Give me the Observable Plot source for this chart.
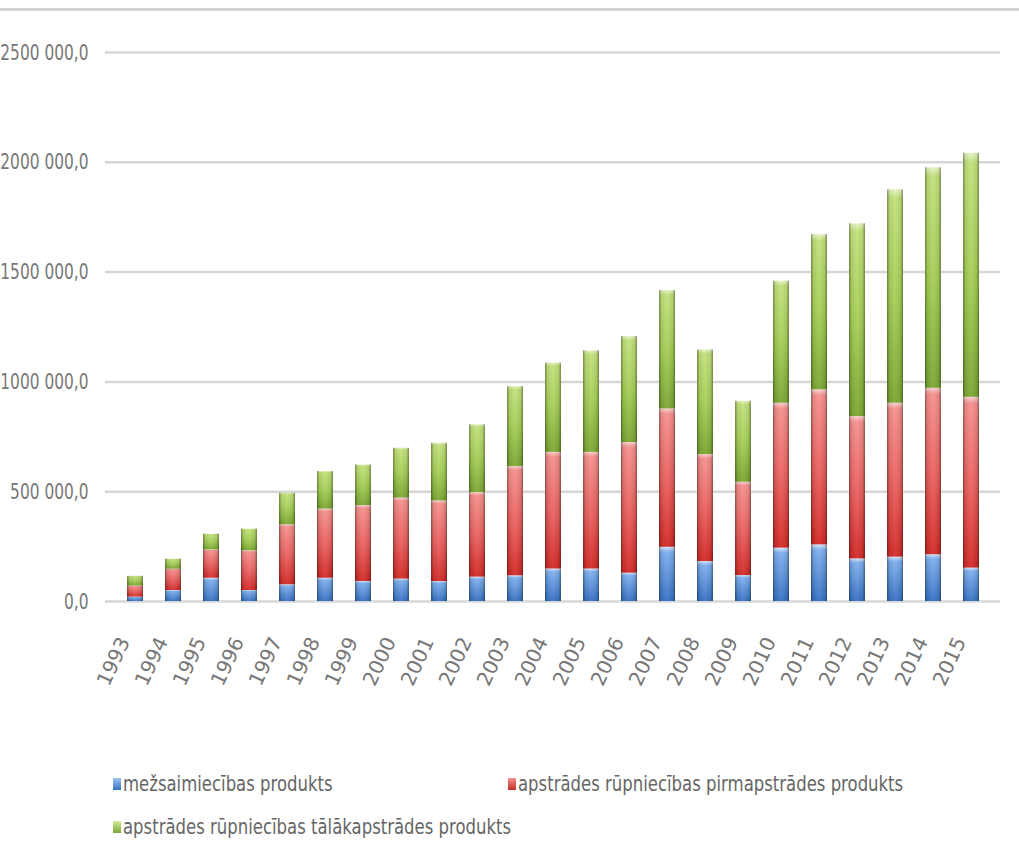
<!DOCTYPE html>
<html>
<head>
<meta charset="utf-8">
<script src="https://cdn.jsdelivr.net/npm/d3@7"></script>
<script src="https://cdn.jsdelivr.net/npm/@observablehq/plot@0.6"></script>
<style>
  html, body { margin: 0; padding: 0; background: #fff; }
  #wrap { position: relative; width: 1019px; height: 867px; overflow: hidden; }
  #topline { position: absolute; left: 0; top: 8px; width: 1019px; height: 3px; background: #d4d4d4; }
  #chart { position: absolute; left: 0; top: 0; }
  #legend { position: absolute; left: 0; top: 0; width: 1019px; color: #666; font-size: 22px; font-family: "DejaVu Sans", sans-serif; }
  .item { position: absolute; white-space: nowrap; display: flex; align-items: center; }
  .sw { display: inline-block; width: 8px; height: 12px; margin-right: 2px; }
  .lt { display: inline-block; transform: scaleX(0.75); transform-origin: left center; }
</style>
</head>
<body>
<svg width="0" height="0" style="position:absolute">
  <defs>
    <linearGradient id="gBlue" x1="0" y1="0" x2="0" y2="1">
      <stop offset="0" stop-color="#d8e8fb"/>
      <stop offset="0.1" stop-color="#7fb0ee"/>
      <stop offset="1" stop-color="#3872c4"/>
    </linearGradient>
    <linearGradient id="gRed" x1="0" y1="0" x2="0" y2="1">
      <stop offset="0" stop-color="#fbd2d0"/>
      <stop offset="0.04" stop-color="#f5918e"/>
      <stop offset="0.5" stop-color="#eb6461"/>
      <stop offset="1" stop-color="#d22b29"/>
    </linearGradient>
    <linearGradient id="gGreen" x1="0" y1="0" x2="0" y2="1">
      <stop offset="0" stop-color="#eaf7c8"/>
      <stop offset="0.04" stop-color="#c2e17c"/>
      <stop offset="0.5" stop-color="#a6cf58"/>
      <stop offset="1" stop-color="#7ca733"/>
    </linearGradient>
    <linearGradient id="gShade" x1="0" y1="0" x2="1" y2="0">
      <stop offset="0" stop-color="#000" stop-opacity="0.4"/>
      <stop offset="0.15" stop-color="#000" stop-opacity="0.08"/>
      <stop offset="0.5" stop-color="#fff" stop-opacity="0.05"/>
      <stop offset="0.85" stop-color="#000" stop-opacity="0.08"/>
      <stop offset="1" stop-color="#000" stop-opacity="0.4"/>
    </linearGradient>
  </defs>
</svg>
<div id="wrap">
  <div id="chart"></div>
  <div id="topline"></div>
  <div id="legend"></div>
</div>
<script>
const years = ["1993","1994","1995","1996","1997","1998","1999","2000","2001","2002","2003","2004","2005","2006","2007","2008","2009","2010","2011","2012","2013","2014","2015"];
const seriesNames = ["mežsaimiecības produkts", "apstrādes rūpniecības pirmapstrādes produkts", "apstrādes rūpniecības tālākapstrādes produkts"];
const forestry = [20000, 50000, 106000, 50000, 76000, 106000, 91000, 102000, 91000, 111000, 117000, 148000, 148000, 129000, 247000, 182000, 118000, 243000, 258000, 194000, 202000, 213000, 152000];
const primary = [50000, 97000, 129000, 181000, 273000, 315000, 346000, 369000, 367000, 385000, 498000, 531000, 531000, 595000, 630000, 487000, 425000, 660000, 706000, 648000, 701000, 758000, 778000];
const further = [45000, 46000, 72000, 99000, 144000, 171000, 185000, 227000, 263000, 309000, 364000, 407000, 463000, 483000, 539000, 477000, 369000, 556000, 707000, 878000, 972000, 1004000, 1111000];
const yTicks = [0, 500000, 1000000, 1500000, 2000000, 2500000];
const yTickLabels = ["0,0", "500 000,0", "1000 000,0", "1500 000,0", "2000 000,0", "2500 000,0"];
const fills = ["url(#gBlue)", "url(#gRed)", "url(#gGreen)"];
const swatchCss = ["linear-gradient(#9cc2f0,#3872c4)", "linear-gradient(#f5918e,#c92a28)", "linear-gradient(#d2eb9a,#7ca733)"];

const seriesValues = [forestry, primary, further];
const data = [];
years.forEach((y, i) => {
  seriesValues.forEach((vals, s) => {
    data.push({year: y, series: seriesNames[s], value: vals[i], fill: fills[s]});
  });
});

const chart = Plot.plot({
  width: 1019,
  height: 720,
  marginLeft: 105,
  marginRight: 19,
  marginTop: 52,
  marginBottom: 119,
  style: {fontFamily: '"DejaVu Sans", sans-serif', background: "transparent", color: "#777"},
  x: {type: "band", domain: years, paddingInner: 0.58, paddingOuter: 0.27, label: null},
  y: {domain: [0, 2500000], label: null},
  marks: [
    Plot.gridY(yTicks, {stroke: "#d6d6d6", strokeOpacity: 1, strokeWidth: 2.5}),
    Plot.barY(data, Plot.stackY({x: "year", y: "value", fill: "fill"})),
    Plot.barY(data, Plot.stackY({x: "year", y: "value", fill: "url(#gShade)"})),
    Plot.axisY({ticks: yTicks, tickFormat: (d) => yTickLabels[yTicks.indexOf(d)], tickSize: 0, tickPadding: 17, fontSize: 22, label: null}),
    Plot.axisX({tickSize: 0, tickRotate: -65, tickPadding: 30, dx: -11, dy: 7, fontSize: 20, label: null})
  ]
});
document.getElementById("chart").appendChild(chart);

// condense the y tick labels like the reference's narrow font
d3.select(chart).selectAll('g[aria-label="y-axis tick label"] text').each(function() {
  const w = this.getComputedTextLength();
  this.setAttribute("textLength", (w * 0.7).toFixed(1));
  this.setAttribute("lengthAdjust", "spacingAndGlyphs");
});

const legend = document.getElementById("legend");
const positions = [[113, 771], [508, 771], [113, 814]];
seriesNames.forEach((name, i) => {
  const item = document.createElement("div");
  item.className = "item";
  item.style.left = positions[i][0] + "px";
  item.style.top = positions[i][1] + "px";
  const sw = document.createElement("span");
  sw.className = "sw";
  sw.style.background = swatchCss[i];
  const t = document.createElement("span");
  t.className = "lt";
  t.textContent = name;
  item.appendChild(sw);
  item.appendChild(t);
  legend.appendChild(item);
});
</script>
</body>
</html>
